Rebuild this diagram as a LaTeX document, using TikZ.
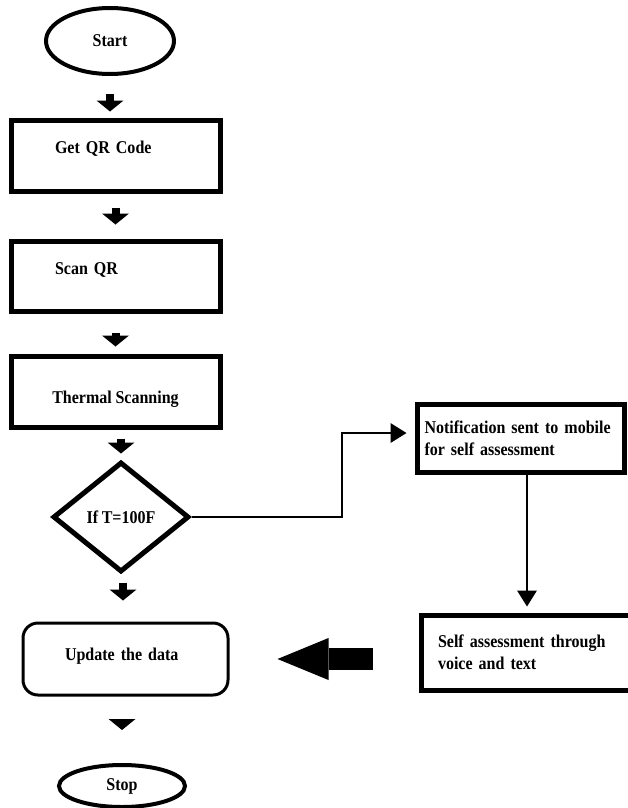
\documentclass[tikz,border=0pt]{standalone}
\usepackage{fontspec}
\setmainfont{Liberation Serif}[FakeStretch=0.89,WordSpace=0.9]
\usetikzlibrary{shapes.geometric,arrows.meta,calc}
\hyphenpenalty=10000
\exhyphenpenalty=10000
\begin{document}
\begin{tikzpicture}[x=1pt,y=-1pt,
  every node/.style={font=\fontsize{18}{22}\selectfont\bfseries, inner sep=0pt},
  terminal/.style={draw, ellipse, line width=4pt},
  procbox/.style={draw, rectangle, line width=5pt},
  decision/.style={draw, diamond, line width=5pt, minimum width=136pt, minimum height=110pt},
  blockarrow/.style={line width=8pt, -{Triangle[width=27pt,length=11pt,line width=0pt]}},
  bigarrow/.style={line width=22pt, -{Triangle[width=42pt,length=51pt,line width=0pt]}},
  conn/.style={line width=2pt, -{Triangle[width=20pt,length=16pt,line width=0pt]}}
]
\useasboundingbox (0,0) rectangle (628,808);
\clip (0,0) rectangle (628,808);
\fill[white] (0,0) rectangle (628,808);

\node[terminal, minimum width=128pt, minimum height=66pt] (start) at (110,41) {Start};
\node[procbox, minimum height=71pt, text width=121pt, inner xsep=44pt, align=left,
      text height=11.9pt, text depth=15pt] (getqr) at (115.5,155.5) {\mbox{Get QR Code}};
\node[procbox, minimum height=70pt, text width=121pt, inner xsep=44pt, align=left,
      text height=11.9pt, text depth=14pt] (scan) at (115.5,276) {\mbox{Scan QR}};
\node[procbox, minimum width=209pt, minimum height=71pt,
      text height=24.9pt, text depth=0pt] (thermal) at (115.5,391.5) {Thermal Scanning};
\node[decision] (dia) at (121,517) {If T=100F};
\node[draw, line width=3pt, rounded corners=15pt, minimum height=72pt, text width=121pt,
      inner xsep=42pt, align=left, text height=11.9pt, text depth=8pt] (update) at (125.5,659) {\mbox{Update the data}};
\node[terminal, minimum width=126pt, minimum height=42pt] (stop) at (122,786) {Stop};

\node[procbox, minimum height=68pt, text width=192pt, inner xsep=7.5pt, align=left] (notif) at (520.5,438)
  {\mbox{Notification sent to mobile}\\\mbox{for self assessment}};
\node[procbox, minimum height=75pt, text width=185pt, inner xsep=17pt, align=left] (selfb) at (530.5,652.5)
  {\mbox{Self assessment through}\\\mbox{voice and text}};

% block arrows
\draw[blockarrow, shorten <=18pt, shorten >=6pt] (start.south) -- (start.south |- getqr.north);
\draw[blockarrow, shorten <=14pt, shorten >=14pt] (getqr.south) -- (scan.north);
\draw[blockarrow, shorten <=19pt, shorten >=7pt] (scan.south) -- (thermal.north);
\draw[blockarrow, shorten <=9pt, shorten >=6pt] (dia.north |- thermal.south) -- (dia.north);
\draw[blockarrow, shorten <=8pt, shorten >=21pt] ([xshift=2pt]dia.south) -- ([xshift=2pt]dia.south |- update.north);
\draw[blockarrow, shorten <=22pt, shorten >=33pt] (stop.north |- update.south) -- (stop.north);

% decision branch
\coordinate (bend) at (342,517);
\draw[conn, shorten >=8pt] (dia.east) -- (bend) |- ([yshift=5pt]notif.west);
\draw[conn, shorten >=6pt] ([xshift=6.5pt]notif.south) -- ([xshift=6.5pt]notif.south |- selfb.north);

% big arrow towards update
\draw[bigarrow, shorten <=46pt, shorten >=48pt] (update.east -| selfb.west) -- (update.east);
\end{tikzpicture}
\end{document}
